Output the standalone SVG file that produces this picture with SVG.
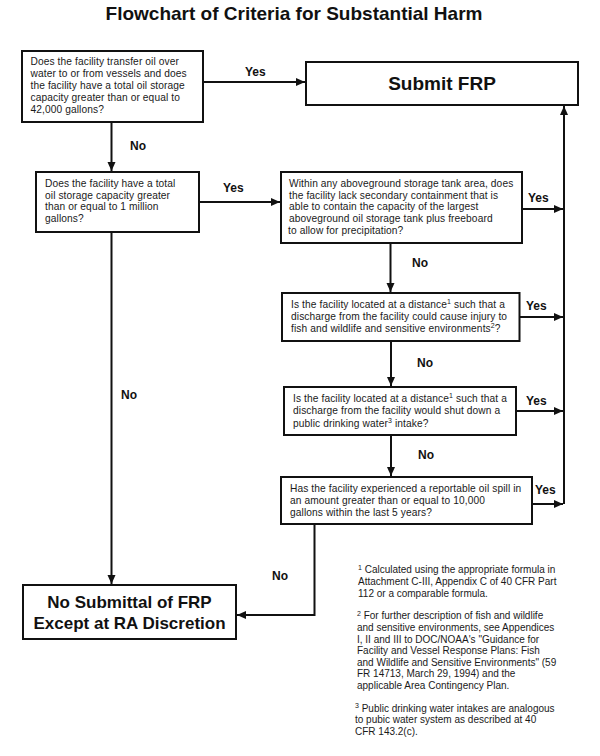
<svg xmlns="http://www.w3.org/2000/svg" width="600" height="756" viewBox="0 0 600 756">
<defs>
<style>
.bg{fill:#ffffff}
.box{fill:#ffffff;stroke:#111;stroke-width:2}
.t{font-family:"Liberation Sans",Arial,sans-serif;font-size:10.2px;fill:#1a1a1a;letter-spacing:0.1px}
.fn{font-family:"Liberation Sans",Arial,sans-serif;font-size:10px;fill:#1a1a1a}
.sup{font-size:7px}
.lbl{font-family:"Liberation Sans",Arial,sans-serif;font-size:12px;font-weight:bold;fill:#111}
.big{font-family:"Liberation Sans",Arial,sans-serif;font-weight:bold;fill:#111;text-anchor:middle}
.c{fill:none;stroke:#111;stroke-width:2}
</style>
<marker id="ah" markerUnits="userSpaceOnUse" markerWidth="10" markerHeight="10" refX="9" refY="4" orient="auto">
<path d="M0,0 L9,4 L0,8 z" fill="#111"/>
</marker>
</defs>
<rect class="bg" x="0" y="0" width="600" height="756"/>
<text class="big" x="294" y="20" font-size="19">Flowchart of Criteria for Substantial Harm</text>

<g id="connectors">
<path class="c" d="M203,82 H305" marker-end="url(#ah)"/>
<path class="c" d="M111.5,122 V171" marker-end="url(#ah)"/>
<path class="c" d="M199,202 H280" marker-end="url(#ah)"/>
<path class="c" d="M111.5,232 V584" marker-end="url(#ah)"/>
<path class="c" d="M522,209 H563" marker-end="url(#ah)"/>
<path class="c" d="M390.5,243 V292" marker-end="url(#ah)"/>
<path class="c" d="M519.5,317 H563" marker-end="url(#ah)"/>
<path class="c" d="M391,341 V386" marker-end="url(#ah)"/>
<path class="c" d="M516,411 H563" marker-end="url(#ah)"/>
<path class="c" d="M391,435 V476" marker-end="url(#ah)"/>
<path class="c" d="M532,504 H563" marker-end="url(#ah)"/>
<path class="c" d="M564,504 V106" marker-end="url(#ah)"/>
<path class="c" d="M314.5,524 V615 H237" marker-end="url(#ah)"/>
<text class="lbl" x="245" y="76">Yes</text>
<text class="lbl" x="130" y="150">No</text>
<text class="lbl" x="223" y="192">Yes</text>
<text class="lbl" x="121" y="399">No</text>
<text class="lbl" x="528" y="202">Yes</text>
<text class="lbl" x="412" y="267">No</text>
<text class="lbl" x="526" y="310">Yes</text>
<text class="lbl" x="417" y="367">No</text>
<text class="lbl" x="526" y="405">Yes</text>
<text class="lbl" x="418" y="459">No</text>
<text class="lbl" x="535" y="494">Yes</text>
<text class="lbl" x="272" y="580">No</text>
</g>

<g id="q1">
<rect class="box" x="22" y="51" width="181" height="71"/>
<text class="t" x="30.5" y="65">Does the facility transfer oil over</text>
<text class="t" x="30.5" y="77">water to or from vessels and does</text>
<text class="t" x="30.5" y="89">the facility have a total oil storage</text>
<text class="t" x="30.5" y="101">capacity greater than or equal to</text>
<text class="t" x="30.5" y="113">42,000 gallons?</text>
</g>

<g id="submit">
<rect class="box" x="306" y="62" width="272" height="43"/>
<text class="big" x="442" y="89.5" font-size="19">Submit FRP</text>
</g>

<g id="q2">
<rect class="box" x="36" y="172" width="163" height="60"/>
<text class="t" x="45" y="187">Does the facility have a total</text>
<text class="t" x="45" y="198.7">oil storage capacity greater</text>
<text class="t" x="45" y="210.4">than or equal to 1 million</text>
<text class="t" x="45" y="222">gallons?</text>
</g>

<g id="q3">
<rect class="box" x="281" y="172" width="241" height="71"/>
<text class="t" x="289" y="187">Within any aboveground storage tank area, does</text>
<text class="t" x="289" y="198.7">the facility lack secondary containment that is</text>
<text class="t" x="289" y="210.4">able to contain the capacity of the largest</text>
<text class="t" x="289" y="222">aboveground oil storage tank plus freeboard</text>
<text class="t" x="288" y="233.7">to allow for precipitation?</text>
</g>

<g id="q4">
<rect class="box" x="282" y="293" width="237.5" height="48"/>
<text class="t" x="291" y="307.5">Is the facility located at a distance<tspan class="sup" dy="-3.5">1</tspan><tspan dy="3.5"> such that a</tspan></text>
<text class="t" x="291" y="319.5">discharge from the facility could cause injury to</text>
<text class="t" x="291" y="331.5">fish and wildlife and sensitive environments<tspan class="sup" dy="-3.5">2</tspan><tspan dy="3.5">?</tspan></text>
</g>

<g id="q5">
<rect class="box" x="284" y="387" width="232" height="48"/>
<text class="t" x="293" y="401.7">Is the facility located at a distance<tspan class="sup" dy="-3.5">1</tspan><tspan dy="3.5"> such that a</tspan></text>
<text class="t" x="293" y="414">discharge from the facility would shut down a</text>
<text class="t" x="293" y="426.5">public drinking water<tspan class="sup" dy="-3.5">3</tspan><tspan dy="3.5"> intake?</tspan></text>
</g>

<g id="q6">
<rect class="box" x="281" y="477" width="251" height="47"/>
<text class="t" x="290" y="492.3">Has the facility experienced a reportable oil spill in</text>
<text class="t" x="290" y="504">an amount greater than or equal to 10,000</text>
<text class="t" x="290" y="515.7">gallons within the last 5 years?</text>
</g>

<g id="nosubmit">
<rect class="box" x="23" y="585" width="213" height="54"/>
<text class="big" x="129.5" y="608" font-size="17">No Submittal of FRP</text>
<text class="big" x="129.5" y="628.5" font-size="17">Except at RA Discretion</text>
</g>

<g id="footnotes">
<text class="fn" x="358" y="573"><tspan class="sup" dy="-3.5">1</tspan><tspan dy="3.5"> Calculated using the appropriate formula in</tspan></text>
<text class="fn" x="358" y="585">Attachment  C-III, Appendix C of 40 CFR Part</text>
<text class="fn" x="358" y="597">112 or a comparable formula.</text>
<text class="fn" x="357" y="619.3"><tspan class="sup" dy="-3.5">2</tspan><tspan dy="3.5">  For further description of fish and wildlife</tspan></text>
<text class="fn" x="357" y="630.9">and sensitive environments, see Appendices</text>
<text class="fn" x="357" y="642.5">I, II and III to DOC/NOAA's "Guidance for</text>
<text class="fn" x="357" y="654.1">Facility and Vessel Response Plans: Fish</text>
<text class="fn" x="357" y="665.7">and Wildlife and Sensitive Environments" (59</text>
<text class="fn" x="357" y="677.3">FR 14713, March 29, 1994) and the</text>
<text class="fn" x="357" y="688.9">applicable Area Contingency Plan.</text>
<text class="fn" x="355" y="711.7"><tspan class="sup" dy="-3.5">3</tspan><tspan dy="3.5"> Public drinking water intakes are analogous</tspan></text>
<text class="fn" x="355" y="723.3">to pubic water system as described at 40</text>
<text class="fn" x="355" y="735">CFR 143.2(c).</text>
</g>
</svg>
